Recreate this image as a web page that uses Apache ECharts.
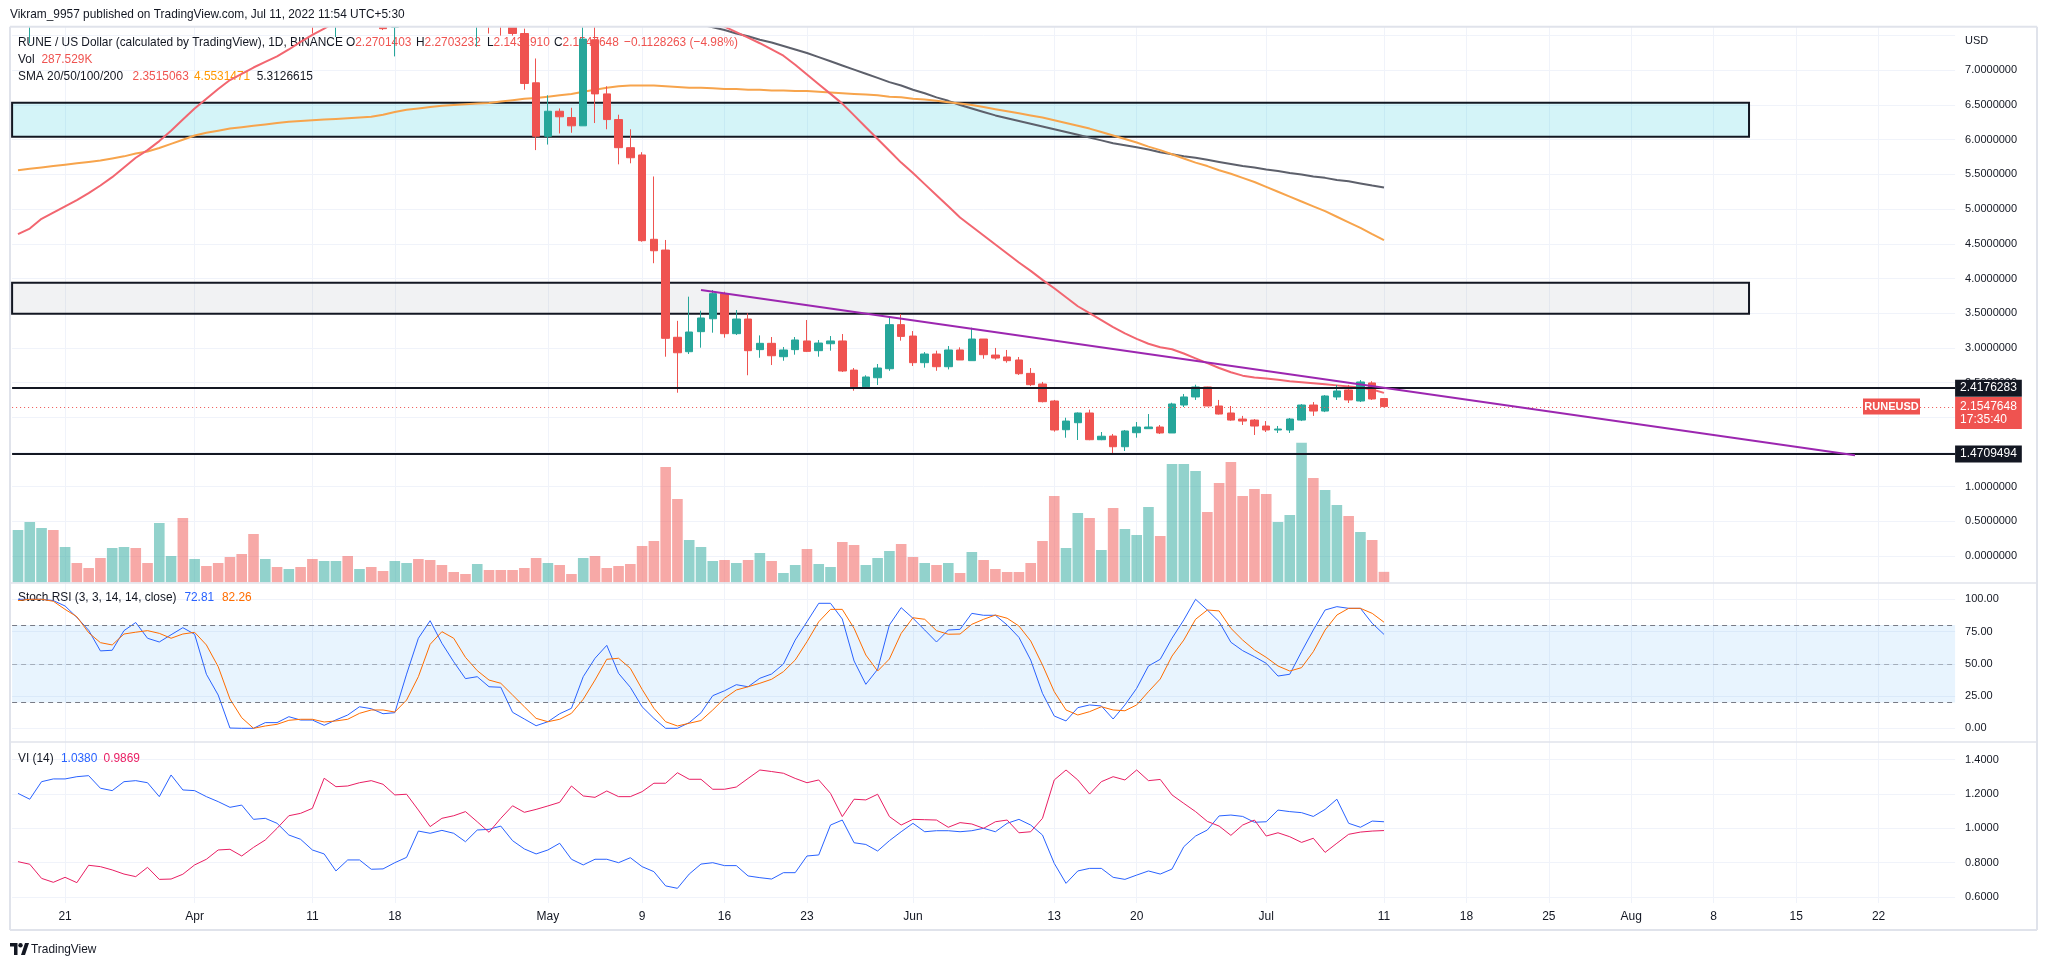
<!DOCTYPE html>
<html><head><meta charset="utf-8">
<script src="https://cdn.jsdelivr.net/npm/echarts@6/dist/echarts.min.js"></script>
<style>html,body{margin:0;padding:0;background:#fff}#c{width:2047px;height:966px}</style>
</head><body><div id="c"></div>
<script>
// ---------------- DATA ----------------
const startDate = [2022, 2, 17];   // Mar 17 2022 (first category)
const dayCount = 165;              // categories up to Aug 28
const tickLabels = [['2022-03-21','21'],['2022-04-01','Apr'],['2022-04-11','11'],['2022-04-18','18'],['2022-05-01','May'],['2022-05-09','9'],['2022-05-16','16'],['2022-05-23','23'],['2022-06-01','Jun'],['2022-06-13','13'],['2022-06-20','20'],['2022-07-01','Jul'],['2022-07-11','11'],['2022-07-18','18'],['2022-07-25','25'],['2022-08-01','Aug'],['2022-08-08','8'],['2022-08-15','15'],['2022-08-22','22']];
// [open, close, low, high]
const candles = [
[7.90,8.60,7.70,8.90],[8.60,9.20,7.39,9.40],[9.20,9.90,9.00,10.1],[9.90,9.30,9.10,10.2],[9.30,9.70,9.00,10.0],[9.70,9.40,9.20,9.90],[9.40,9.20,9.00,9.60],[9.20,8.90,8.70,9.40],[8.90,9.60,8.80,9.80],[9.60,10.2,9.50,10.4],
[10.2,9.80,9.60,10.4],[9.80,9.50,9.30,10.0],[9.50,10.8,9.40,11.2],[10.8,11.2,10.5,11.5],[11.2,10.3,10.0,11.6],[10.3,11.0,10.1,11.3],[11.0,10.7,10.5,11.2],[10.7,10.4,10.2,10.9],[10.4,10.0,9.80,10.6],[10.0,9.60,9.40,10.2],
[9.60,8.70,8.50,9.80],[8.70,9.00,8.50,9.20],[9.00,8.80,8.60,9.10],[8.80,9.00,8.70,9.20],[9.00,8.70,8.50,9.10],[8.70,7.90,7.53,8.80],[7.90,8.10,7.80,8.30],[8.10,8.60,7.48,8.80],[8.60,8.20,8.00,8.80],[8.20,8.40,8.10,8.60],
[8.40,8.10,8.00,8.50],[8.10,7.60,7.58,8.20],[7.62,8.30,7.20,8.50],[8.30,8.90,8.20,9.10],[8.90,8.60,8.40,9.20],[8.60,8.30,8.10,8.80],[8.30,8.00,7.90,8.50],[8.00,7.80,7.70,8.10],[7.80,7.70,7.65,7.90],[7.70,8.10,7.34,8.20],
[8.10,7.70,7.53,8.30],[7.70,7.66,7.50,8.00],[7.90,7.53,7.50,8.00],[7.53,6.81,6.72,7.60],[6.82,6.05,5.85,7.17],[6.05,6.41,5.93,6.64],[6.41,6.33,6.09,6.45],[6.32,6.20,6.10,6.46],[6.20,7.45,6.20,7.80],[7.44,6.66,6.24,7.70],
[6.66,6.29,6.15,6.77],[6.29,5.885,5.645,6.36],[5.885,5.74,5.66,6.15],[5.78,4.545,4.53,5.82],[4.565,4.40,4.22,5.47],[4.41,3.138,2.873,4.555],[3.153,2.93,2.354,3.39],[2.945,3.229,2.912,3.738],[3.234,3.431,3.003,3.536],[3.42,3.782,3.219,3.834],
[3.78,3.205,3.147,3.81],[3.205,3.416,3.186,3.546],[3.416,2.96,2.606,3.498],[2.975,3.066,2.858,3.18],[3.066,2.887,2.753,3.157],[2.873,2.97,2.815,3.013],[2.975,3.114,2.902,3.157],[3.1,2.95,2.94,3.402],[2.96,3.07,2.873,3.114],[3.06,3.1,2.96,3.171],
[3.1,2.667,2.653,3.2],[2.68,2.44,2.383,2.71],[2.44,2.581,2.427,2.605],[2.57,2.71,2.465,2.768],[2.70,3.335,2.67,3.44],[3.335,3.166,3.104,3.488],[3.171,2.787,2.739,3.243],[2.787,2.912,2.715,2.94],[2.912,2.729,2.67,2.96],[2.729,2.97,2.69,3.027],
[2.97,2.826,2.826,3.008],[2.816,3.128,2.816,3.291],[3.128,2.902,2.844,3.128],[2.897,2.854,2.83,2.999],[2.869,2.816,2.787,2.97],[2.826,2.628,2.61,2.869],[2.633,2.47,2.45,2.71],[2.48,2.225,2.215,2.51],[2.235,1.817,1.793,2.25],[1.821,1.946,1.706,1.994],
[1.922,2.062,1.673,2.07],[2.062,1.677,1.67,2.11],[1.677,1.727,1.67,1.788],[1.73,1.576,1.461,1.76],[1.576,1.803,1.514,1.817],[1.778,1.86,1.706,1.932],[1.836,1.86,1.836,2.047],[1.86,1.774,1.759,1.889],[1.774,2.192,1.774,2.21],[2.177,2.293,2.148,2.336],
[2.293,2.437,2.25,2.47],[2.437,2.163,2.16,2.44],[2.163,2.047,2.04,2.25],[2.062,1.96,1.95,2.163],[1.975,1.946,1.889,2.02],[1.96,1.874,1.745,1.975],[1.874,1.817,1.788,1.946],[1.817,1.831,1.774,1.875],[1.817,1.975,1.774,1.99],[1.96,2.177,1.946,2.19],
[2.177,2.09,2.02,2.22],[2.09,2.307,2.075,2.32],[2.293,2.379,2.25,2.466],[2.394,2.25,2.206,2.466],[2.235,2.509,2.22,2.537],[2.495,2.264,2.25,2.52],[2.2701403,2.1547648,2.143291,2.2703232]
];
// volume in thousands
const volumeK = [1438,1658,1493,1438,971,531,393,668,943,971,
943,531,1631,723,1768,641,448,531,696,778,
1328,641,421,366,421,641,586,586,723,366,
421,311,586,531,641,613,476,283,228,503,
338,338,338,393,668,531,476,228,668,723,
393,448,503,998,1136,3171,2291,1163,971,586,
613,531,613,806,586,256,476,916,503,421,
1108,1026,476,668,861,1053,696,531,476,531,
256,833,613,366,283,283,531,1136,2373,943,
1906,1768,888,2043,1466,1301,2071,1273,3253,3253,
3061,1933,2731,3308,2373,2566,2428,1658,1851,3839,
2868,2538,2126,1823,1383,1163,287.529];
const sma20 = [4.64,4.72,4.86,4.95,5.04,5.13,5.23,5.34,5.46,5.60,
5.74,5.85,5.98,6.13,6.29,6.45,6.59,6.73,6.86,6.95,
7.04,7.12,7.20,7.30,7.41,7.51,7.60,7.70,7.82,7.95,
8.07,8.19,8.30,8.40,8.50,8.58,8.65,8.71,8.76,8.80,
8.83,8.85,8.86,8.86,8.85,8.83,8.80,8.76,8.71,8.65,
8.58,8.50,8.42,8.33,8.24,8.14,8.04,7.94,7.84,7.74,
7.63,7.55,7.47,7.39,7.30,7.21,7.08,6.94,6.80,6.66,
6.52,6.35,6.18,6.01,5.84,5.67,5.52,5.36,5.20,5.04,
4.88,4.75,4.62,4.49,4.36,4.23,4.11,3.98,3.86,3.73,
3.60,3.50,3.40,3.30,3.21,3.13,3.06,3.01,2.98,2.92,
2.85,2.78,2.71,2.65,2.60,2.575,2.56,2.54,2.52,2.505,
2.49,2.475,2.46,2.445,2.43,2.40,2.3515063];
const sma50 = [5.56,5.58,5.60,5.62,5.64,5.66,5.68,5.70,5.73,5.76,
5.80,5.83,5.88,5.94,6.00,6.06,6.10,6.13,6.16,6.18,
6.20,6.22,6.24,6.26,6.27,6.28,6.29,6.30,6.31,6.32,
6.33,6.36,6.40,6.43,6.45,6.47,6.49,6.50,6.51,6.52,
6.53,6.55,6.57,6.59,6.60,6.62,6.64,6.66,6.69,6.72,
6.75,6.77,6.78,6.78,6.78,6.77,6.76,6.75,6.75,6.74,
6.73,6.73,6.72,6.72,6.71,6.71,6.70,6.70,6.69,6.68,
6.67,6.66,6.65,6.64,6.62,6.61,6.59,6.58,6.56,6.54,
6.52,6.50,6.47,6.44,6.41,6.38,6.35,6.32,6.28,6.24,
6.20,6.16,6.11,6.06,6.01,5.96,5.90,5.85,5.79,5.73,
5.67,5.62,5.56,5.51,5.45,5.39,5.32,5.25,5.18,5.11,
5.04,4.97,4.89,4.81,4.73,4.64,4.5531471];
const sma100 = [null,null,null,null,null,null,null,null,null,null,
null,null,null,null,null,null,null,null,null,null,
null,null,null,null,null,null,null,null,null,null,
null,null,null,null,null,null,null,null,null,null,
null,null,null,null,null,null,null,null,null,null,
null,null,null,null,null,null,7.78,7.72,7.66,7.62,
7.58,7.53,7.49,7.44,7.40,7.35,7.30,7.25,7.19,7.13,
7.07,7.01,6.95,6.89,6.83,6.78,6.72,6.67,6.61,6.56,
6.50,6.45,6.40,6.35,6.31,6.27,6.23,6.19,6.15,6.11,
6.07,6.03,5.99,5.95,5.92,5.89,5.86,5.82,5.79,5.76,
5.74,5.71,5.68,5.65,5.62,5.60,5.57,5.55,5.52,5.50,
5.47,5.45,5.42,5.40,5.37,5.34,5.3126615];
const stochK = [100,100,100,99,94.8,86,76,60,60.5,75.7,
82,69.8,66.9,72.5,78,72.9,41.9,25.8,0.2,0,
0,4.4,4.4,9,6.4,6.4,2.3,6.5,10.3,16.7,
15.2,11.3,12.1,42,69.8,83.4,65.9,51.6,38.5,40,
32.2,31.8,12.4,7.2,2,5.1,11.3,15.5,40,54.3,
64.3,42.6,31.8,16.7,7.7,0,0,4.4,12,25.3,
29.1,33.8,32.2,38.8,42.1,49.8,68.4,82.6,96.9,96.9,
84.7,52.2,34.1,45.7,80.1,93.5,85.3,76.2,66.9,76.2,
76.7,89.1,87.6,87.6,80.1,70.5,52.9,27.1,9.5,5.7,
16,18.1,17.3,7.2,18.1,31,48.3,53.5,69.8,84,
100,91.7,82.6,66.7,60.2,55.5,50.4,40.5,41.9,59.4,
76.2,91.7,94.3,93,93,81.4,72.81];
const stochD = [99,100,100,98.5,92.2,86.5,74.1,66.4,64.6,73.1,
74.5,75.7,73.6,69.8,73.1,74.4,64.6,47.8,22.7,8.2,
0,1.8,3.1,6.2,7,7,4.9,5.7,7,11.6,
14.2,14.2,12.6,21.9,40,65.1,74.9,69.8,55,44.7,
37.4,34.9,25.8,16.7,7.7,5.1,7,11.6,22.5,37.4,
53.5,54.3,46.5,30.2,15.5,5.1,1.8,3.9,6,14.2,
23.3,29.7,32.2,34.9,38,43.9,52.9,67.1,82.6,92.2,
92.2,77.5,56.8,44.4,53.7,73.6,85.7,84.5,75.7,72.9,
73.1,80.6,84.5,87.8,85.3,79.3,67.7,49.1,28.4,14.2,
10.3,12.9,16.7,14.2,13.6,18.1,28.4,38.2,56,68.4,
84.5,91.7,91,77.5,68.4,60.7,55,48.3,44.4,47,
59.4,76.2,87.8,93,93,89.1,82.26];
const viPlus = [1.203,1.169,1.271,1.287,1.287,1.30,1.306,1.233,1.219,1.271,
1.277,1.265,1.184,1.31,1.223,1.219,1.184,1.155,1.122,1.135,
1.052,1.058,1.029,0.961,0.936,0.874,0.851,0.752,0.816,0.816,
0.762,0.764,0.80,0.831,0.984,0.971,0.988,0.971,0.922,0.99,
0.994,1.013,0.928,0.88,0.851,0.874,0.913,0.82,0.787,0.82,
0.82,0.80,0.829,0.777,0.748,0.665,0.651,0.734,0.792,0.80,
0.783,0.783,0.723,0.713,0.705,0.742,0.742,0.839,0.845,1.019,
1.048,0.916,0.906,0.868,0.928,0.98,1.029,0.98,0.986,0.986,
0.98,0.986,1.0,0.98,1.029,1.052,1.019,0.961,0.796,0.68,
0.752,0.767,0.767,0.715,0.703,0.728,0.752,0.734,0.763,0.893,
0.955,0.99,1.072,1.077,1.069,1.035,1.038,1.106,1.097,1.091,
1.069,1.11,1.169,1.029,1.006,1.042,1.038];
const viMinus = [0.806,0.791,0.709,0.686,0.715,0.684,0.785,0.777,0.758,0.734,
0.719,0.773,0.703,0.705,0.733,0.787,0.82,0.874,0.878,0.839,
0.889,0.932,1.0,1.073,1.087,1.116,1.291,1.242,1.246,1.265,
1.277,1.256,1.194,1.198,1.106,1.01,1.058,1.073,1.097,1.038,
0.977,1.058,1.131,1.093,1.11,1.13,1.151,1.246,1.188,1.18,
1.217,1.184,1.184,1.213,1.262,1.262,1.323,1.285,1.285,1.227,
1.227,1.24,1.29,1.339,1.33,1.32,1.29,1.265,1.281,1.203,
1.068,1.169,1.165,1.198,1.068,1.019,1.052,1.05,1.048,1.006,
1.033,1.025,1.0,1.038,1.048,0.974,0.98,1.058,1.281,1.339,
1.281,1.199,1.271,1.30,1.281,1.339,1.277,1.284,1.194,1.145,
1.097,1.04,1.013,0.959,1.019,1.048,0.955,0.974,0.951,0.918,
0.942,0.86,0.913,0.965,0.978,0.984,0.9869];
const resistanceLevel = 2.4176283;
const supportLevel = 1.4709494;
const lastPrice = 2.1547648;
const zoneCyan = {top: 6.533, bottom: 6.043, end: '2022-08-11'};
const zoneGray = {top: 3.94, bottom: 3.493, end: '2022-08-11'};
const trendStart = ['2022-05-14', 3.834];
const trendEnd = ['2022-08-20', 1.453];

// ---------------- BUILD ----------------
const dates = [];
for (let i = 0; i < dayCount; i++) {
  const d = new Date(Date.UTC(startDate[0], startDate[1], startDate[2] + i));
  dates.push(d.toISOString().slice(0, 10));
}
const labelMap = Object.fromEntries(tickLabels);
const showTick = (idx, val) => labelMap[val] !== undefined;
const FONT = '"Liberation Sans", Arial, sans-serif';
const TXT = '#131722', GRIDC = '#f0f3fa', UP = '#26a69a', DOWN = '#ef5350';
const L = 12.1, R = 2047 - 1955.1;

function xAx(gridIndex, opts) {
  return Object.assign({
    type: 'category', gridIndex, data: dates, boundaryGap: true,
    axisLine: {show: false}, axisTick: {show: false}, axisLabel: {show: false},
    splitLine: {show: false}
  }, opts || {});
}
const vSplit = {show: true, interval: showTick, alignWithLabel: true, lineStyle: {color: GRIDC, width: 1}};

const chart = echarts.init(document.getElementById('c'), null, {renderer: 'canvas'});
const nulls = candles.map(() => null);

const option = {
  animation: false,
  backgroundColor: '#ffffff',
  grid: [
    {left: L, right: R, top: 26.7, height: 556.3},          // 0 main exact
    {left: L, right: R, top: 0.9, height: 589.9},           // 1 main frame
    {left: L, right: R, top: 26.7, height: 555.6},          // 2 volume
    {left: L, right: R, top: 583, height: 159},             // 3 stoch exact
    {left: L, right: R, top: 567.05, height: 193.5},        // 4 stoch frame
    {left: L, right: R, top: 742, height: 161},             // 5 VI exact
    {left: L, right: R, top: 725.1, height: 206.4}          // 6 VI frame
  ],
  xAxis: [
    xAx(0, {splitLine: vSplit}),
    xAx(1, {show: false}),
    xAx(2, {show: false}),
    xAx(3, {splitLine: vSplit}),
    xAx(4, {show: false}),
    xAx(5, {splitLine: vSplit, axisLabel: {show: true, interval: showTick, formatter: v => labelMap[v] || '', color: TXT, fontSize: 12, fontFamily: FONT, margin: 8}}),
    xAx(6, {show: false})
  ],
  yAxis: [
    {type: 'value', gridIndex: 0, min: -0.3876, max: 7.6282, show: false},
    {type: 'value', gridIndex: 1, min: -0.5, max: 8, interval: 0.5, position: 'right',
      axisLine: {show: false}, axisTick: {show: false},
      axisLabel: {color: TXT, fontSize: 11, fontFamily: FONT, margin: 10, showMinLabel: false, showMaxLabel: false,
        formatter: v => (v >= 7.4 || v < 0) ? '' : v.toFixed(7)},
      splitLine: {show: true, showMinLine: false, showMaxLine: false, lineStyle: {color: GRIDC}}},
    {type: 'value', gridIndex: 2, min: 0, max: 15279, show: false},
    {type: 'value', gridIndex: 3, min: 0, max: 1, show: false},
    {type: 'value', gridIndex: 4, min: -25, max: 125, interval: 25, position: 'right',
      axisLine: {show: false}, axisTick: {show: false},
      axisLabel: {color: TXT, fontSize: 11, fontFamily: FONT, margin: 10, showMinLabel: false, showMaxLabel: false, formatter: v => v.toFixed(2)},
      splitLine: {show: true, showMinLine: false, showMaxLine: false, lineStyle: {color: GRIDC}}},
    {type: 'value', gridIndex: 5, min: 0.5657, max: 1.5017, show: false},
    {type: 'value', gridIndex: 6, min: 0.4, max: 1.6, interval: 0.2, position: 'right',
      axisLine: {show: false}, axisTick: {show: false},
      axisLabel: {color: TXT, fontSize: 11, fontFamily: FONT, margin: 10, showMinLabel: false, showMaxLabel: false, formatter: v => v.toFixed(4)},
      splitLine: {show: true, showMinLine: false, showMaxLine: false, lineStyle: {color: GRIDC}}}
  ],
  series: [
    {type: 'line', name: 'zones', xAxisIndex: 0, yAxisIndex: 0, data: nulls, z: 1, silent: true, showSymbol: false,
      markArea: {silent: true, data: [
        [{yAxis: zoneCyan.top, itemStyle: {color: 'rgba(0,188,212,0.17)', borderColor: '#131722', borderWidth: 2}}, {xAxis: zoneCyan.end, yAxis: zoneCyan.bottom}],
        [{yAxis: zoneGray.top, itemStyle: {color: 'rgba(120,123,134,0.1)', borderColor: '#131722', borderWidth: 2}}, {xAxis: zoneGray.end, yAxis: zoneGray.bottom}]
      ]}},
    {type: 'bar', name: 'Vol', xAxisIndex: 2, yAxisIndex: 2, barWidth: '90%', z: 1, silent: true,
      data: volumeK.map((v, i) => ({value: v, itemStyle: {color: candles[i][1] >= candles[i][0] ? 'rgba(38,166,154,0.5)' : 'rgba(239,83,80,0.5)'}}))},
    {type: 'line', name: 'SMA100', xAxisIndex: 0, yAxisIndex: 0, data: sma100, showSymbol: false, z: 2, lineStyle: {color: '#5d606b', width: 2}},
    {type: 'line', name: 'SMA50', xAxisIndex: 0, yAxisIndex: 0, data: sma50, showSymbol: false, z: 2, lineStyle: {color: '#f7a44c', width: 2}},
    {type: 'line', name: 'SMA20', xAxisIndex: 0, yAxisIndex: 0, data: sma20, showSymbol: false, z: 2, lineStyle: {color: '#f26670', width: 2}},
    {type: 'candlestick', name: 'RUNEUSD', xAxisIndex: 0, yAxisIndex: 0, data: candles, barWidth: 8, z: 3,
      itemStyle: {color: UP, color0: DOWN, borderColor: UP, borderColor0: DOWN, borderWidth: 1}},
    {type: 'line', name: 'drawings', xAxisIndex: 0, yAxisIndex: 0, data: nulls, z: 5, showSymbol: false, silent: true,
      markLine: {silent: true, symbol: ['none', 'none'], animation: false, data: [
        {yAxis: resistanceLevel, lineStyle: {color: '#131722', width: 2, type: 'solid'},
          label: {show: true, position: 'end', distance: 0, formatter: resistanceLevel.toFixed(7), color: '#fff', backgroundColor: '#131722', padding: [3, 5, 2, 5], fontSize: 12, fontFamily: FONT}},
        {yAxis: supportLevel, lineStyle: {color: '#131722', width: 2, type: 'solid'},
          label: {show: true, position: 'end', distance: 0, formatter: supportLevel.toFixed(7), color: '#fff', backgroundColor: '#131722', padding: [3, 5, 2, 5], fontSize: 12, fontFamily: FONT}},
        {yAxis: lastPrice, lineStyle: {color: DOWN, width: 1, type: [1, 3]},
          label: {show: true, position: 'end', distance: 0, offset: [0, 6], formatter: lastPrice.toFixed(7) + '\n17:35:40', color: '#fff', backgroundColor: DOWN, padding: [3, 5, 3, 5], lineHeight: 13, fontSize: 12, fontFamily: FONT}},
        [{coord: trendStart, lineStyle: {color: '#9c27b0', width: 2, type: 'solid'}, label: {show: false}}, {coord: trendEnd}]
      ]}},
    {type: 'line', name: 'K', xAxisIndex: 4, yAxisIndex: 4, data: stochK, showSymbol: false, z: 3, lineStyle: {color: '#2962ff', width: 1},
      markArea: {silent: true, data: [[{yAxis: 20, itemStyle: {color: 'rgba(33,150,243,0.1)'}}, {yAxis: 80}]]},
      markLine: {silent: true, symbol: ['none', 'none'], label: {show: false}, data: [
        {yAxis: 80, lineStyle: {color: '#787b86', width: 1, type: [5, 4]}},
        {yAxis: 50, lineStyle: {color: 'rgba(120,123,134,0.55)', width: 1, type: [5, 4]}},
        {yAxis: 20, lineStyle: {color: '#787b86', width: 1, type: [5, 4]}}
      ]}},
    {type: 'line', name: 'D', xAxisIndex: 4, yAxisIndex: 4, data: stochD, showSymbol: false, z: 3, lineStyle: {color: '#ff6d00', width: 1}},
    {type: 'line', name: 'VI+', xAxisIndex: 6, yAxisIndex: 6, data: viPlus, showSymbol: false, z: 3, lineStyle: {color: '#2962ff', width: 1}},
    {type: 'line', name: 'VI-', xAxisIndex: 6, yAxisIndex: 6, data: viMinus, showSymbol: false, z: 3, lineStyle: {color: '#e91e63', width: 1}}
  ]
};
chart.setOption(option);

// ---------------- TEXT / FRAME ----------------
const lastY = chart.convertToPixel({xAxisIndex: 0, yAxisIndex: 0}, [0, lastPrice])[1];
const SX = 0.88;
const rich = {
  k: {fill: TXT, fontSize: 13.5, fontFamily: FONT},
  r: {fill: DOWN, fontSize: 13.5, fontFamily: FONT},
  o: {fill: '#ff9800', fontSize: 13.5, fontFamily: FONT},
  b: {fill: '#2962ff', fontSize: 13.5, fontFamily: FONT},
  or: {fill: '#ff6d00', fontSize: 13.5, fontFamily: FONT},
  p: {fill: '#e91e63', fontSize: 13.5, fontFamily: FONT}
};
function txt(x, y, text, z) {
  return {type: 'text', x, y, scaleX: SX, scaleY: 1, z: z || 0, silent: true,
    style: {text, rich, verticalAlign: 'middle', align: 'left', font: '13.5px ' + FONT, fill: TXT}};
}
const border = '#e0e3eb';
const line = (x1, y1, x2, y2, w) => ({type: 'line', silent: true, z: 60, shape: {x1, y1, x2, y2}, style: {stroke: border, lineWidth: w || 1}});
chart.setOption({graphic: [
  // white band above the plot (hides candle parts that poke above the pane)
  {type: 'rect', silent: true, z: 50, shape: {x: 0, y: 0, width: 2047, height: 25.9}, style: {fill: '#ffffff'}},
  txt(10, 14, '{k|Vikram_9957 published on TradingView.com, Jul 11, 2022 11:54 UTC+5:30}', 55),
  txt(18, 42, '{k|RUNE / US Dollar (calculated by TradingView), 1D, BINANCE}'),
  txt(346, 42, '{k|O}{r|2.2701403}'),
  txt(416, 42, '{k|H}{r|2.2703232}'),
  txt(487, 42, '{k|L}{r|2.1432910}'),
  txt(554, 42, '{k|C}{r|2.1547648}'),
  txt(624, 42, '{r|\u22120.1128263 (\u22124.98%)}'),
  txt(18, 59, '{k|Vol}'),
  txt(41.5, 59, '{r|287.529K}'),
  txt(18, 76, '{k|SMA 20/50/100/200}'),
  txt(132.6, 76, '{r|2.3515063}'),
  txt(194, 76, '{o|4.5531471}'),
  txt(256.7, 76, '{k|5.3126615}'),
  txt(18, 597.5, '{k|Stoch RSI (3, 3, 14, 14, close)}'),
  txt(184.4, 597.5, '{b|72.81}'),
  txt(222, 597.5, '{or|82.26}'),
  txt(18, 758.5, '{k|VI (14)}'),
  txt(61, 758.5, '{b|1.0380}'),
  txt(103.6, 758.5, '{p|0.9869}'),
  {type: 'text', x: 1965, y: 41, silent: true, style: {text: 'USD', font: '11px ' + FONT, fill: TXT, verticalAlign: 'middle'}},
  {type: 'rect', silent: true, z: 6, shape: {x: 1863, y: lastY - 8, width: 57, height: 16}, style: {fill: DOWN}},
  {type: 'text', silent: true, z: 7, x: 1891.5, y: lastY, style: {text: 'RUNEUSD', font: 'bold 11px ' + FONT, fill: '#fff', align: 'center', verticalAlign: 'middle'}},
  // TradingView logo
  {type: 'polygon', silent: true, shape: {points: [[10, 943], [17.5, 943], [17.5, 955], [14, 955], [14, 946.5], [10, 946.5]]}, style: {fill: '#131722'}},
  {type: 'circle', silent: true, shape: {cx: 20.5, cy: 945.2, r: 2.2}, style: {fill: '#131722'}},
  {type: 'polygon', silent: true, shape: {points: [[21, 955], [25, 943], [29, 943], [25, 955]]}, style: {fill: '#131722'}},
  txt(31, 949, '{k|TradingView}'),
  // frame
  line(10, 26.7, 2037, 26.7, 2),
  line(10, 26.7, 10, 930, 2),
  line(2037, 26.7, 2037, 930, 2),
  line(10, 930, 2037, 930, 2),
  line(10, 583, 2037, 583, 1.5),
  line(10, 742, 2037, 742, 1.5)
]});
</script>
</body></html>
